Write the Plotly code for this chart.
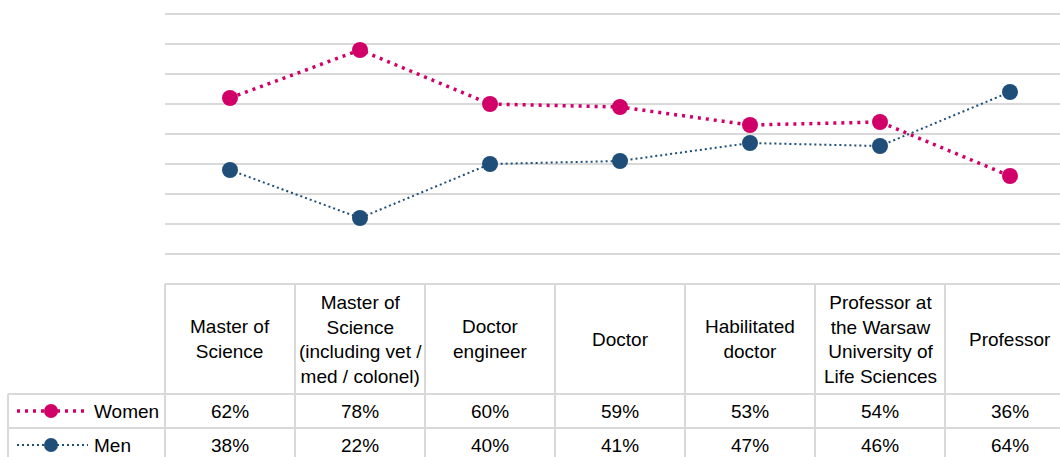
import plotly.graph_objects as go

categories = [
    "Master of<br>Science",
    "Master of<br>Science<br>(including vet /<br>med / colonel)",
    "Doctor<br>engineer",
    "Doctor",
    "Habilitated<br>doctor",
    "Professor at<br>the Warsaw<br>University of<br>Life Sciences",
    "Professor",
]
women = [0.62, 0.78, 0.60, 0.59, 0.53, 0.54, 0.36]
men = [0.38, 0.22, 0.40, 0.41, 0.47, 0.46, 0.64]

W, H = 1060, 457
PINK = "#D10069"
BLUE = "#1F4E79"
GRID = "#D9D9D9"
FONT = "Liberation Sans, Arial, sans-serif"

# table geometry in pixels
X0 = 165          # left of first category column
COLW = 130
TOP = 284         # top of table / 0% line
HDR_BOT = 394
ROW_H = 34
PLOT_TOP = 10     # a bit above the 90% gridline (y=14)
PX_PER_UNIT = (TOP - 14) / 0.9


def px(x):
    return x / W


def py(y):
    return 1 - y / H


xs = list(range(len(categories)))

fig = go.Figure()
fig.add_trace(go.Scatter(
    x=xs, y=women, name="Women", mode="lines+markers",
    line=dict(color=PINK, width=3.5, dash="3px,5px"),
    marker=dict(symbol="circle", size=16, color=PINK),
))
fig.add_trace(go.Scatter(
    x=xs, y=men, name="Men", mode="lines+markers",
    line=dict(color=BLUE, width=2, dash="2px,3px"),
    marker=dict(symbol="circle", size=16, color=BLUE),
))

# legend keys inside the data table (drawn on a pixel overlay axis)
for i, (nm, col, lw, dsh) in enumerate([("Women", PINK, 3.5, "3px,5px"), ("Men", BLUE, 2, "2px,3px")]):
    yc = HDR_BOT + ROW_H * i + ROW_H / 2
    fig.add_trace(go.Scatter(
        x=[17, 88], y=[yc, yc], mode="lines", xaxis="x2", yaxis="y2",
        line=dict(color=col, width=lw, dash=dsh), hoverinfo="skip", showlegend=False,
    ))
    fig.add_trace(go.Scatter(
        x=[51], y=[yc], mode="markers", xaxis="x2", yaxis="y2",
        marker=dict(symbol="circle", size=14, color=col), hoverinfo="skip", showlegend=False,
    ))

shapes = []
line = dict(color=GRID, width=2)
# horizontal table lines
shapes.append(dict(type="line", xref="paper", yref="paper", x0=px(X0), x1=1, y0=py(TOP), y1=py(TOP), line=line))
for k in range(3):
    yy = HDR_BOT + ROW_H * k
    shapes.append(dict(type="line", xref="paper", yref="paper", x0=px(8), x1=1, y0=py(yy), y1=py(yy), line=line))
# vertical table lines
shapes.append(dict(type="line", xref="paper", yref="paper", x0=px(8), x1=px(8), y0=py(HDR_BOT), y1=0, line=line))
for k in range(len(categories)):
    xx = X0 + COLW * k
    shapes.append(dict(type="line", xref="paper", yref="paper", x0=px(xx), x1=px(xx), y0=py(TOP), y1=0, line=line))

annotations = []
tf = dict(family=FONT, size=19, color="#000000")
for k, cat in enumerate(categories):
    cx = X0 + COLW * k + COLW / 2
    annotations.append(dict(xref="paper", yref="paper", x=px(cx), y=py((TOP + HDR_BOT) / 2),
                            text=cat, showarrow=False, font=tf, xanchor="center", yanchor="middle"))
    for i, vals in enumerate([women, men]):
        yc = HDR_BOT + ROW_H * i + ROW_H / 2
        annotations.append(dict(xref="paper", yref="paper", x=px(cx), y=py(yc),
                                text=f"{round(vals[k] * 100)}%", showarrow=False, font=tf,
                                xanchor="center", yanchor="middle"))
for i, nm in enumerate(["Women", "Men"]):
    yc = HDR_BOT + ROW_H * i + ROW_H / 2
    annotations.append(dict(xref="paper", yref="paper", x=px(92), y=py(yc), text=nm,
                            showarrow=False, font=tf, xanchor="left", yanchor="middle"))

fig.update_layout(
    width=W, height=H,
    margin=dict(l=0, r=0, t=0, b=0),
    paper_bgcolor="white", plot_bgcolor="rgba(0,0,0,0)",
    showlegend=False,
    font=tf,
    xaxis=dict(domain=[px(X0), 1], range=[-0.5, -0.5 + (W - X0) / COLW],
               showgrid=False, zeroline=False, showticklabels=False, ticks=""),
    yaxis=dict(domain=[py(TOP), py(PLOT_TOP)], range=[0, 0.9 + (14 - PLOT_TOP) / PX_PER_UNIT],
               dtick=0.1, tick0=0,
               showgrid=True, gridcolor=GRID, gridwidth=2, zeroline=False,
               showticklabels=False, ticks=""),
    xaxis2=dict(domain=[0, 1], range=[0, W], anchor="y2", visible=False),
    yaxis2=dict(domain=[0, 1], range=[H, 0], anchor="x2", visible=False),
    shapes=shapes,
    annotations=annotations,
)

fig.write_html("out.html", config={"displayModeBar": False},
               post_script="document.body.style.margin='0';")
